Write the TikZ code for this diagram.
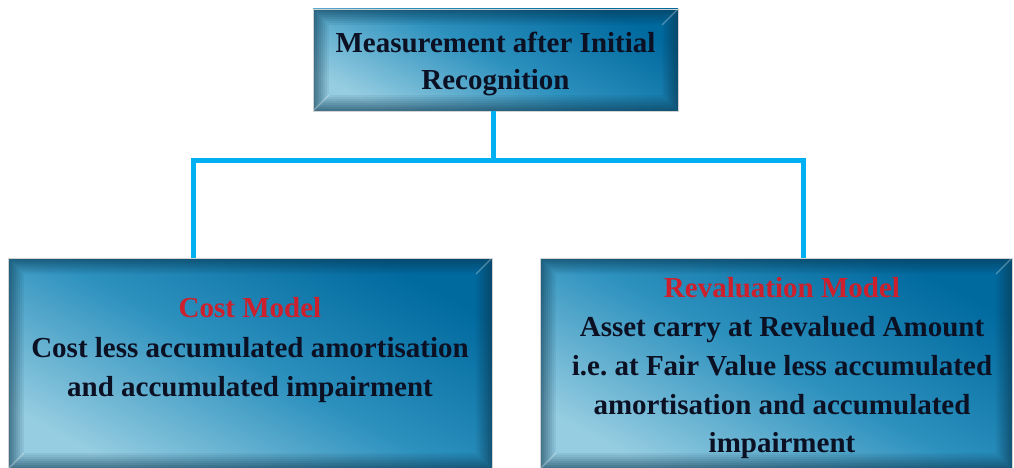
\documentclass[tikz,border=0pt]{standalone}
\usepackage{fontspec}
\setmainfont{Liberation Serif}
\usetikzlibrary{calc}

\definecolor{panelLight}{RGB}{150,205,225}
\definecolor{panelMid}{RGB}{45,145,190}
\definecolor{panelDark}{RGB}{0,105,158}
\definecolor{bevelShade}{RGB}{10,55,80}
\definecolor{wire}{RGB}{0,176,240}
\definecolor{ink}{RGB}{12,16,35}
\definecolor{heading}{RGB}{205,32,44}

\tikzset{
  panel/.style 2 args={
    rectangle, inner sep=0pt,
    minimum width=#1, minimum height=#2,
    draw=gray!35, line width=0.8pt,
    top color=panelDark, bottom color=panelLight, middle color=panelMid,
    shading angle=-28,
    path picture={
      % inner bevel: stacked frames fading towards the middle
      \foreach \k in {0,...,7}{
        \pgfmathsetmacro{\d}{1+2*\k}
        \pgfmathsetmacro{\op}{0.6*(1-\k/8)}
        \draw[bevelShade, line width=2.1pt, opacity=\op]
          ([shift={(\d pt,\d pt)}]path picture bounding box.south west) rectangle
          ([shift={(-\d pt,-\d pt)}]path picture bounding box.north east);
      }
      % light streaks along two bevel corners
      \draw[white, opacity=0.3, line width=1.2pt]
        (path picture bounding box.south west) -- ++(16pt,16pt);
      \draw[white, opacity=0.3, line width=1.2pt]
        (path picture bounding box.north east) -- ++(-16pt,-16pt);
    }
  },
  paneltext/.style={
    text=ink, align=center, inner sep=0pt,
    font=\fontsize{29}{#1}\selectfont\bfseries
  },
  conn/.style={draw=wire, line width=5pt, line join=miter}
}

\begin{document}
\frenchspacing
\begin{tikzpicture}[x=1pt, y=-1pt]
  \useasboundingbox[fill=white] (0,0) rectangle (1014,468);

  % junction points of the connector bar
  \coordinate (busL) at (193,160);
  \coordinate (busR) at (803,160);
  \coordinate (busM) at (493.5,160);

  % boxes
  \node[panel={365pt}{102pt}] (top)   at (495.5,60)  {};
  \node[panel={484pt}{211pt}] (cost)  at (250,363.5) {};
  \node[panel={472pt}{211pt}] (reval) at (776,363.5) {};

  % connectors
  \draw[conn] (busM |- top.south) -- (busM);
  \draw[conn] (busL |- cost.north) -- (busL) -- (busR) -- (busR |- reval.north);

  % texts
  \node[paneltext=37pt] (topText) at (495.5,64)
    {Measurement after Initial\\Recognition};
  \node[paneltext=39.5pt] (costText) at (250,350.5)
    {\textcolor{heading}{Cost Model}\\
     Cost less accumulated amortisation\\
     and accumulated impairment};
  \node[paneltext=38.75pt] (revalText) at (782,368.5)
    {\textcolor{heading}{Revaluation Model}\\
     Asset carry at Revalued Amount\\
     i.e. at Fair Value less accumulated\\
     amortisation and accumulated\\
     impairment};
\end{tikzpicture}
\end{document}
